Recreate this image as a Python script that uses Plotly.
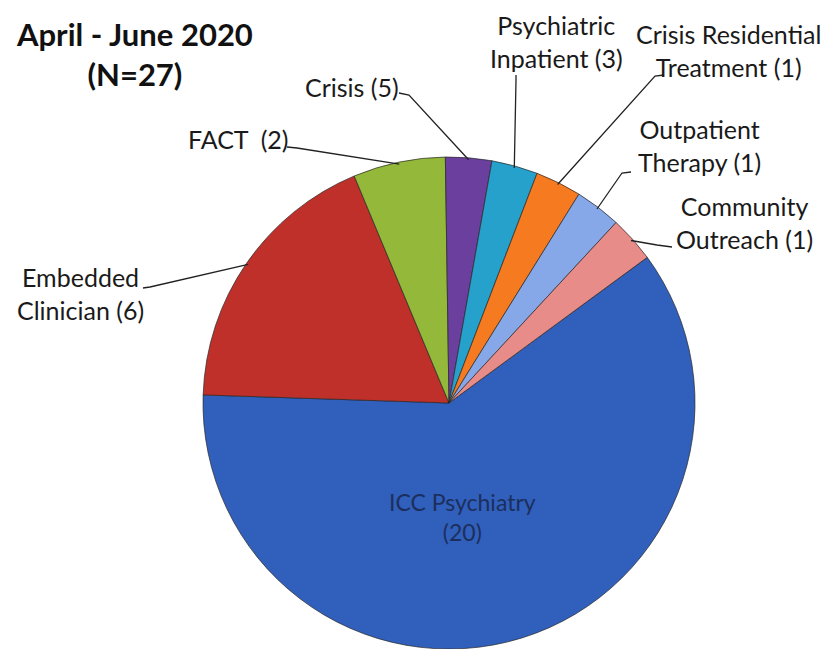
import math
import plotly.graph_objects as go

# ---- data ----
categories = ["ICC Psychiatry", "Embedded Clinician", "FACT", "Crisis",
              "Psychiatric Inpatient", "Crisis Residential Treatment",
              "Outpatient Therapy", "Community Outreach"]
slice_values = [20, 6, 2, 1, 1, 1, 1, 1]
label_texts = ["ICC Psychiatry<br>(20)", "Embedded<br>Clinician (6)", "FACT&nbsp;&nbsp;(2)",
               "Crisis (5)", "Psychiatric<br>Inpatient (3)", "Crisis Residential<br>Treatment (1)",
               "Outpatient<br>Therapy (1)", "Community<br>Outreach (1)"]
colors = ["#305FBC", "#C0302A", "#93B83A", "#6A3F9E", "#25A1CB", "#F67A1F", "#86A8E8", "#E88C8A"]

title_text = "<b>April - June 2020<br>(N=27)</b>"

# ---- layout constants (pixels) ----
W, H = 838, 649
CX, CY, R = 449, 403, 246
ROTATION = 53.7

def px2paper(x, y):
    return x / W, 1 - y / H

# label text centres and leader-line start points (pixels)
label_pos = {
    "ICC Psychiatry": (462, 517),
    "Embedded Clinician": (80, 293),
    "FACT": (238, 139),
    "Crisis": (352, 87),
    "Psychiatric Inpatient": (556, 42),
    "Crisis Residential Treatment": (728, 50),
    "Outpatient Therapy": (699, 146),
    "Community Outreach": (744, 222),
}
leader_start = {
    "Embedded Clinician": [(143, 288), (150, 287)],
    "FACT": [(287, 147), (297, 148)],
    "Crisis": [(399, 93), (409, 95)],
    "Psychiatric Inpatient": [(516, 75), (516, 80)],
    "Crisis Residential Treatment": [(664, 75), (655, 76)],
    "Outpatient Therapy": [(631, 172), (622, 173)],
    "Community Outreach": [(672, 247), (657, 245)],
}

fig = go.Figure(go.Pie(
    labels=categories,
    values=slice_values,
    sort=False,
    direction="clockwise",
    rotation=ROTATION,
    textinfo="none",
    hoverinfo="label+value",
    marker=dict(colors=colors, line=dict(color="rgba(40,40,40,0.7)", width=1)),
    domain=dict(x=[(CX - R) / W, (CX + R) / W], y=[0, 2 * R / H]),
    showlegend=False,
))

# mid angles of slices (clockwise from 12 o'clock)
total = sum(slice_values)
cum = 0
shapes = []
annotations = []
for cat, v, txt in zip(categories, slice_values, label_texts):
    mid = math.radians(ROTATION + 360 * (cum + v / 2) / total)
    cum += v
    tip = (CX + (R - 2) * math.sin(mid), CY - (R - 2) * math.cos(mid))
    lx, ly = label_pos[cat]
    px_, py_ = px2paper(lx, ly)
    if cat == "ICC Psychiatry":
        annotations.append(dict(x=px_, y=py_, xref="paper", yref="paper", text=txt,
                                showarrow=False, font=dict(family="Lato", size=23, color="#1c2f5c"),
                                xanchor="center", yanchor="middle"))
        continue
    annotations.append(dict(x=px_, y=py_, xref="paper", yref="paper", text=txt,
                            showarrow=False, font=dict(family="Lato", size=25, color="#1a1a1a"),
                            xanchor="center", yanchor="middle", align="center"))
    pts = leader_start[cat] + [tip]
    path = "M " + " L ".join(f"{x / W:.5f},{1 - y / H:.5f}" for x, y in pts)
    shapes.append(dict(type="path", xref="paper", yref="paper", path=path,
                       line=dict(color="#222222", width=1.3)))

tx, ty = px2paper(134, 54)
annotations.append(dict(x=tx, y=ty, xref="paper", yref="paper", text=title_text,
                        showarrow=False, font=dict(family="Lato", size=31, color="#111111"),
                        xanchor="center", yanchor="middle", align="center"))

fig.update_layout(
    width=W, height=H,
    margin=dict(l=0, r=0, t=0, b=0),
    paper_bgcolor="white", plot_bgcolor="white",
    shapes=shapes, annotations=annotations,
)

fig.write_html("out.html",
               config={"displayModeBar": False},
               post_script="document.body.style.margin='0px';document.body.style.overflow='hidden';")
